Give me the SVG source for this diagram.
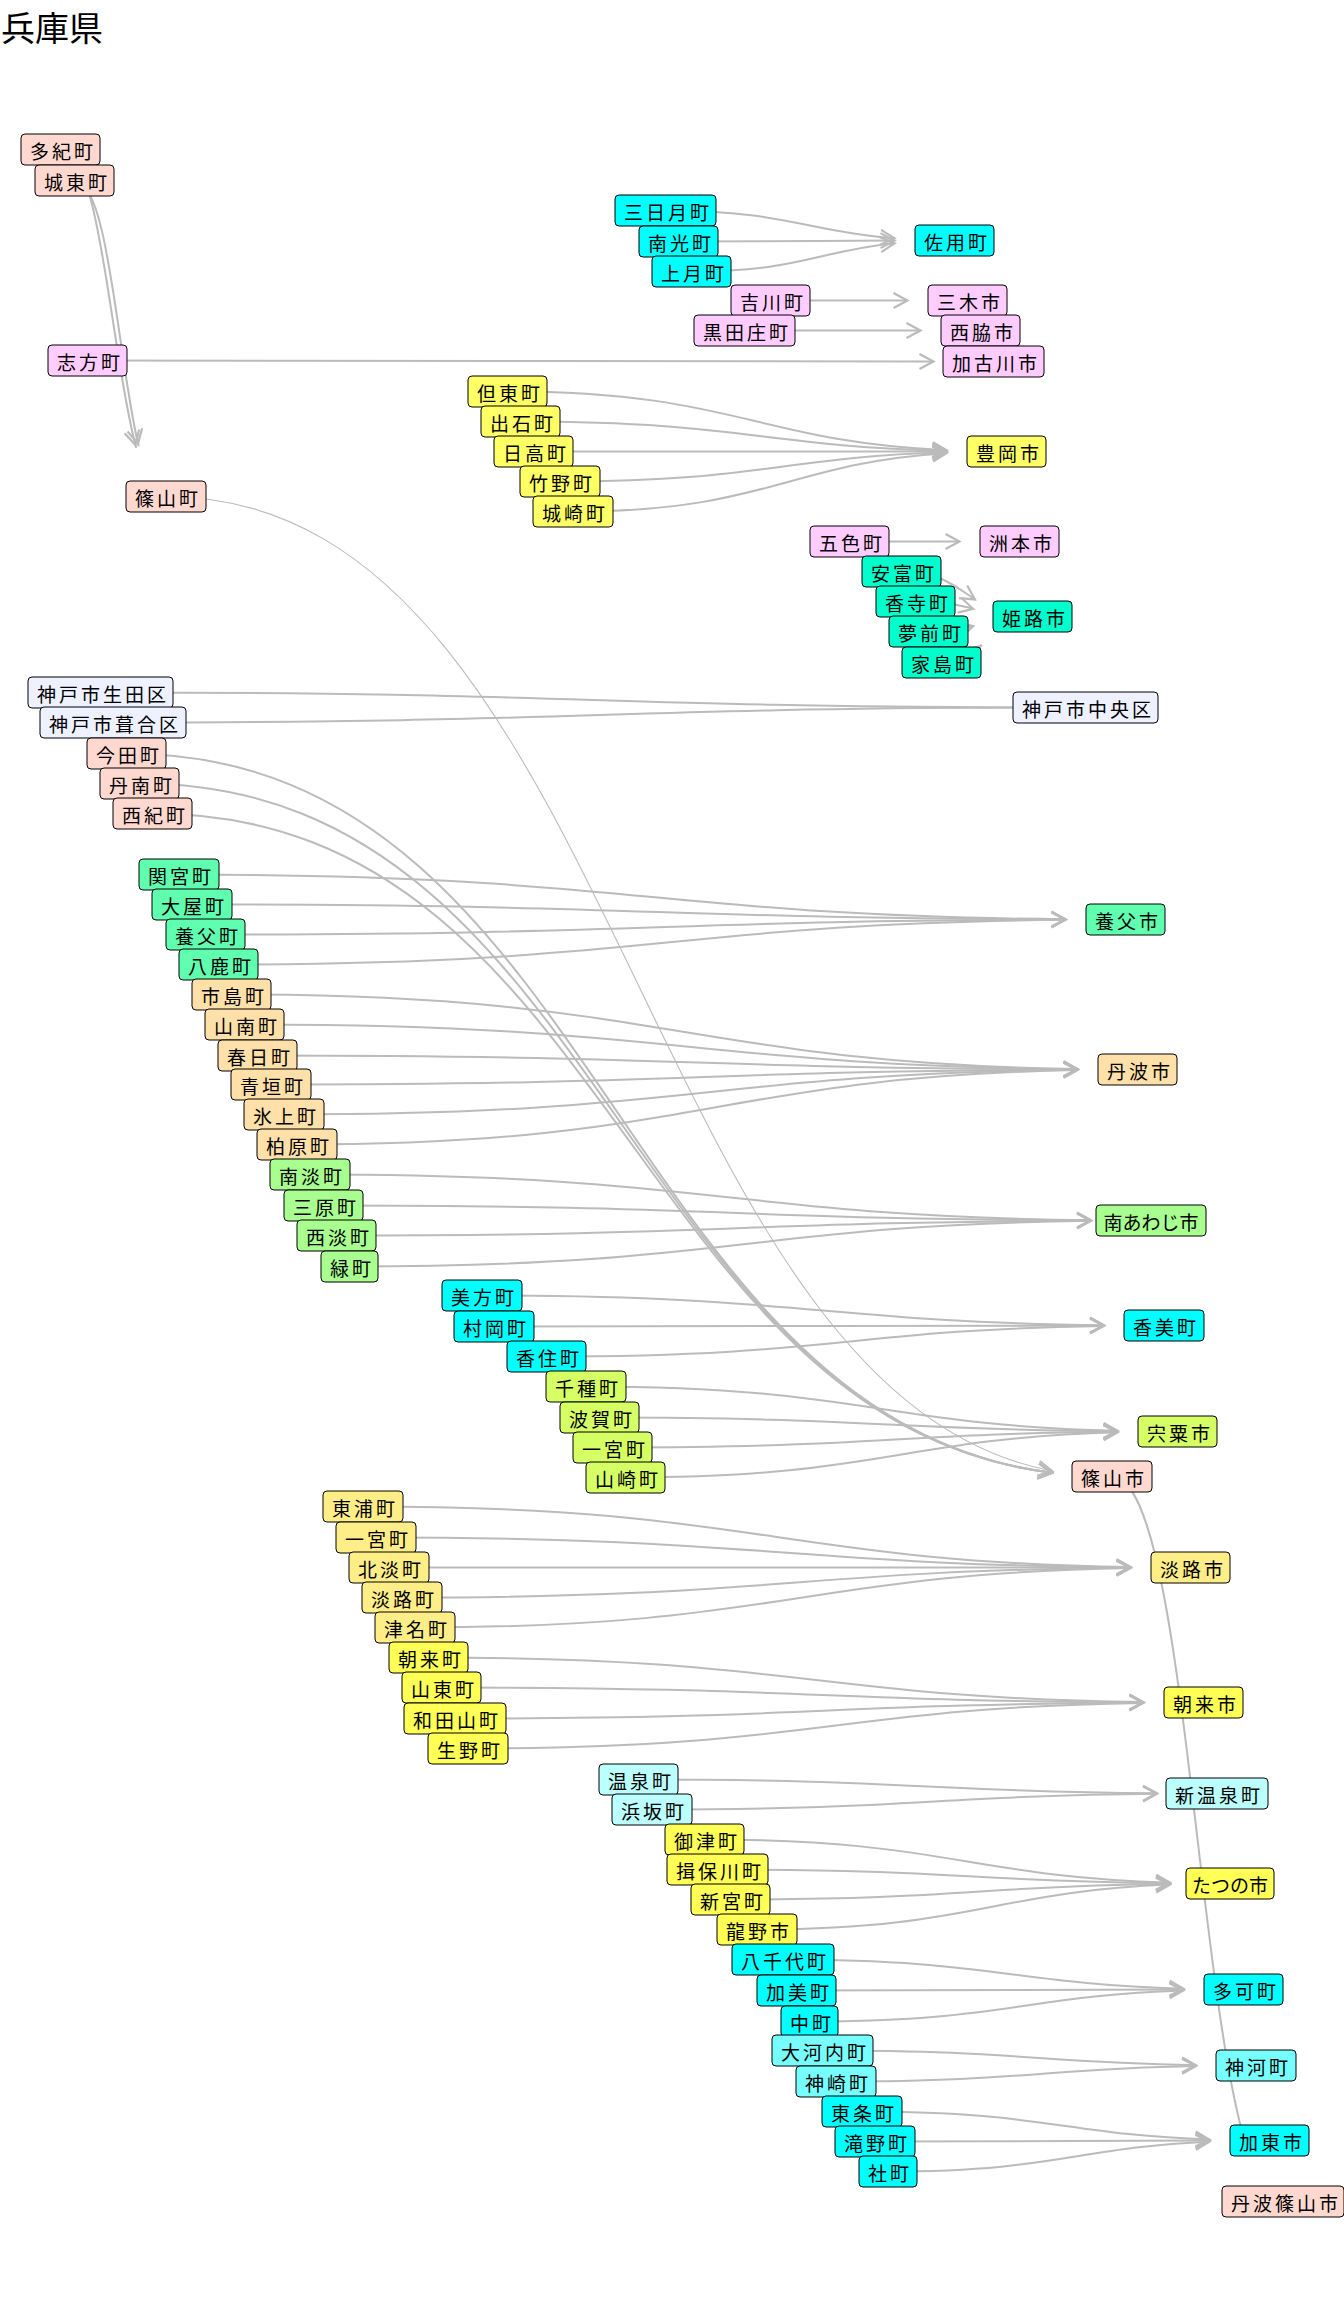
<svg xmlns="http://www.w3.org/2000/svg" width="1344" height="2304" viewBox="0 0 1344 2304">
<style>
.n rect{stroke:#000;stroke-width:1}
.n text{font-family:"Noto Sans CJK JP","Noto Sans CJK SC",sans-serif;font-size:19px;letter-spacing:3px;fill:#000}
.n text.k{letter-spacing:0}
.e{fill:none;stroke:#bbbbbb;stroke-width:2;stroke-dasharray:5000 60;stroke-dashoffset:5000}
.thin{stroke-width:1.1}
.p1{fill:#ffd9d0}.p2{fill:#ffccff}.cy{fill:#00ffff}.y1{fill:#ffff66}.tl{fill:#00ffcc}.lv{fill:#eef1ff}
.mg{fill:#60ffb0}.or{fill:#ffe0a8}.lg{fill:#a8ff90}.yg{fill:#d6ff66}.ly{fill:#ffee88}.y2{fill:#ffff55}
.lc{fill:#bbffff}.mc{fill:#77ffff}
</style>
<defs>
<path id="ah" d="M-14,-7.5 L0,0 L-14,7.5" fill="none" stroke="#bbbbbb" stroke-width="2.2" stroke-linejoin="miter"/>
</defs>
<rect x="0" y="0" width="1344" height="2304" fill="#ffffff"/>
<text x="1" y="41" font-family="Noto Sans CJK JP,Noto Sans CJK SC,sans-serif" font-size="34" fill="#000">兵庫県</text>
<g id="edges">
<path class="e" d="M166,496.5 C113.25,496.5 113.25,149.5 60.5,149.5"/>
<path class="e" d="M166,496.5 C120.25,496.5 120.25,180.5 74.5,180.5"/>
<use href="#ah" transform="translate(135.4,444.9) rotate(75.4)"/>
<use href="#ah" transform="translate(138,443.5) rotate(77)"/>
<path class="e thin" d="M1112,1476.5 C639,1476.5 639,496.5 166,496.5"/>
<path class="e" d="M1112,1476.5 C619.25,1476.5 619.25,753.5 126.5,753.5"/>
<path class="e" d="M1112,1476.5 C625.75,1476.5 625.75,783.5 139.5,783.5"/>
<path class="e" d="M1112,1476.5 C632.25,1476.5 632.25,813.5 152.5,813.5"/>
<use href="#ah" transform="translate(1052.2,1471) rotate(10.8)"/>
<use href="#ah" transform="translate(1052.1,1472.7) rotate(7.35)"/>
<use href="#ah" transform="translate(1052,1472.8) rotate(7.27)"/>
<use href="#ah" transform="translate(1052,1472.9) rotate(7.15)"/>
<path class="e" d="M1283,2201.5 C1197.5,2201.5 1197.5,1476.5 1112,1476.5"/>
<use href="#ah" transform="translate(1248,2152.7) rotate(72)"/>
<path class="e" d="M1085.5,707.5 C593,707.5 593,692.5 100.5,692.5"/>
<path class="e" d="M1085.5,707.5 C599.25,707.5 599.25,722.5 113,722.5"/>
<path class="e" d="M954.5,240.5 C810,240.5 810,210.5 665.5,210.5"/>
<path class="e" d="M954.5,240.5 C816.5,240.5 816.5,241.5 678.5,241.5"/>
<path class="e" d="M954.5,240.5 C823,240.5 823,271.5 691.5,271.5"/>
<use href="#ah" transform="translate(894.5,238.4) rotate(4.4)"/>
<use href="#ah" transform="translate(894.5,240.6) rotate(-0.2)"/>
<use href="#ah" transform="translate(894.6,243.2) rotate(-5.66)"/>
<path class="e" d="M967.5,300.5 C869,300.5 869,300.5 770.5,300.5"/>
<use href="#ah" transform="translate(907.5,300.5)"/>
<path class="e" d="M980.5,330.5 C862.5,330.5 862.5,330.5 744.5,330.5"/>
<use href="#ah" transform="translate(920.5,330.5)"/>
<path class="e" d="M993.5,361.5 C540.5,361.5 540.5,360.5 87.5,360.5"/>
<use href="#ah" transform="translate(933.5,361.5)"/>
<path class="e" d="M1019.5,541.5 C934.5,541.5 934.5,541.5 849.5,541.5"/>
<use href="#ah" transform="translate(959.5,541.5)"/>
<path class="e" d="M1006.5,451.5 C757,451.5 757,391.5 507.5,391.5"/>
<path class="e" d="M1006.5,451.5 C763.5,451.5 763.5,421.5 520.5,421.5"/>
<path class="e" d="M1006.5,451.5 C770,451.5 770,451.5 533.5,451.5"/>
<path class="e" d="M1006.5,451.5 C783.25,451.5 783.25,481.5 560,481.5"/>
<path class="e" d="M1006.5,451.5 C789.75,451.5 789.75,511.5 573,511.5"/>
<use href="#ah" transform="translate(946.5,450.2) rotate(2.61)"/>
<use href="#ah" transform="translate(946.5,450.8) rotate(1.38)"/>
<use href="#ah" transform="translate(946.5,451.5)"/>
<use href="#ah" transform="translate(946.5,452.3) rotate(-1.66)"/>
<use href="#ah" transform="translate(946.6,453.2) rotate(-3.55)"/>
<path class="e" d="M1032.5,616.5 C967,616.5 967,571.5 901.5,571.5"/>
<path class="e" d="M1032.5,616.5 C974,616.5 974,601.5 915.5,601.5"/>
<path class="e" d="M1032.5,616.5 C980.5,616.5 980.5,631.5 928.5,631.5"/>
<path class="e" d="M1032.5,616.5 C987,616.5 987,662.5 941.5,662.5"/>
<use href="#ah" transform="translate(974.9,599.4) rotate(33.1)"/>
<use href="#ah" transform="translate(973.1,608.8) rotate(14.4)"/>
<use href="#ah" transform="translate(973.2,626) rotate(-15.1)"/>
<use href="#ah" transform="translate(980.4,646) rotate(-43.2)"/>
<path class="e" d="M1125.5,919.5 C652.25,919.5 652.25,874.5 179,874.5"/>
<path class="e" d="M1125.5,919.5 C658.75,919.5 658.75,904.5 192,904.5"/>
<path class="e" d="M1125.5,919.5 C665.5,919.5 665.5,934.5 205.5,934.5"/>
<path class="e" d="M1125.5,919.5 C672,919.5 672,964.5 218.5,964.5"/>
<use href="#ah" transform="translate(1065.5,919.2) rotate(0.5)"/>
<use href="#ah" transform="translate(1065.5,919.4) rotate(0.17)"/>
<use href="#ah" transform="translate(1065.5,919.6) rotate(-0.17)"/>
<use href="#ah" transform="translate(1065.5,919.8) rotate(-0.55)"/>
<path class="e" d="M1137.5,1069.5 C684.5,1069.5 684.5,994.5 231.5,994.5"/>
<path class="e" d="M1137.5,1069.5 C691,1069.5 691,1024.5 244.5,1024.5"/>
<path class="e" d="M1137.5,1069.5 C697.5,1069.5 697.5,1055.5 257.5,1055.5"/>
<path class="e" d="M1137.5,1069.5 C704.25,1069.5 704.25,1084.5 271,1084.5"/>
<path class="e" d="M1137.5,1069.5 C710.75,1069.5 710.75,1114.5 284,1114.5"/>
<path class="e" d="M1137.5,1069.5 C717.25,1069.5 717.25,1144.5 297,1144.5"/>
<use href="#ah" transform="translate(1077.5,1069) rotate(0.92)"/>
<use href="#ah" transform="translate(1077.5,1069.2) rotate(0.57)"/>
<use href="#ah" transform="translate(1077.5,1069.4) rotate(0.18)"/>
<use href="#ah" transform="translate(1077.5,1069.6) rotate(-0.2)"/>
<use href="#ah" transform="translate(1077.5,1069.8) rotate(-0.63)"/>
<use href="#ah" transform="translate(1077.5,1070) rotate(-1.07)"/>
<path class="e" d="M1151,1220.5 C730.5,1220.5 730.5,1174.5 310,1174.5"/>
<path class="e" d="M1151,1220.5 C737.25,1220.5 737.25,1205.5 323.5,1205.5"/>
<path class="e" d="M1151,1220.5 C743.75,1220.5 743.75,1235.5 336.5,1235.5"/>
<path class="e" d="M1151,1220.5 C750.25,1220.5 750.25,1266.5 349.5,1266.5"/>
<use href="#ah" transform="translate(1091,1220.2) rotate(0.66)"/>
<use href="#ah" transform="translate(1091,1220.4) rotate(0.2)"/>
<use href="#ah" transform="translate(1091,1220.6) rotate(-0.2)"/>
<use href="#ah" transform="translate(1091,1220.9) rotate(-0.72)"/>
<path class="e" d="M1164,1325.5 C823,1325.5 823,1295.5 482,1295.5"/>
<path class="e" d="M1164,1325.5 C829,1325.5 829,1326.5 494,1326.5"/>
<path class="e" d="M1164,1325.5 C855.25,1325.5 855.25,1356.5 546.5,1356.5"/>
<use href="#ah" transform="translate(1104,1325.2) rotate(0.67)"/>
<use href="#ah" transform="translate(1104,1325.5)"/>
<use href="#ah" transform="translate(1104,1325.9) rotate(-0.85)"/>
<path class="e" d="M1177.5,1431.5 C881.75,1431.5 881.75,1386.5 586,1386.5"/>
<path class="e" d="M1177.5,1431.5 C888.5,1431.5 888.5,1417.5 599.5,1417.5"/>
<path class="e" d="M1177.5,1431.5 C895,1431.5 895,1447.5 612.5,1447.5"/>
<path class="e" d="M1177.5,1431.5 C901.5,1431.5 901.5,1477.5 625.5,1477.5"/>
<use href="#ah" transform="translate(1117.5,1430.8) rotate(1.36)"/>
<use href="#ah" transform="translate(1117.5,1431.3) rotate(0.44)"/>
<use href="#ah" transform="translate(1117.5,1431.8) rotate(-0.53)"/>
<use href="#ah" transform="translate(1117.5,1432.3) rotate(-1.61)"/>
<path class="e" d="M1190.5,1567.5 C776.75,1567.5 776.75,1506.5 363,1506.5"/>
<path class="e" d="M1190.5,1567.5 C783.25,1567.5 783.25,1537.5 376,1537.5"/>
<path class="e" d="M1190.5,1567.5 C789.75,1567.5 789.75,1567.5 389,1567.5"/>
<path class="e" d="M1190.5,1567.5 C796.25,1567.5 796.25,1597.5 402,1597.5"/>
<path class="e" d="M1190.5,1567.5 C802.75,1567.5 802.75,1627.5 415,1627.5"/>
<use href="#ah" transform="translate(1130.5,1567) rotate(0.9)"/>
<use href="#ah" transform="translate(1130.5,1567.3) rotate(0.46)"/>
<use href="#ah" transform="translate(1130.5,1567.5)"/>
<use href="#ah" transform="translate(1130.5,1567.75) rotate(-0.49)"/>
<use href="#ah" transform="translate(1130.5,1568) rotate(-1.01)"/>
<path class="e" d="M1203.5,1702.5 C816,1702.5 816,1657.5 428.5,1657.5"/>
<path class="e" d="M1203.5,1702.5 C822.5,1702.5 822.5,1687.5 441.5,1687.5"/>
<path class="e" d="M1203.5,1702.5 C829.25,1702.5 829.25,1718.5 455,1718.5"/>
<path class="e" d="M1203.5,1702.5 C835.75,1702.5 835.75,1748.5 468,1748.5"/>
<use href="#ah" transform="translate(1143.5,1702.1) rotate(0.76)"/>
<use href="#ah" transform="translate(1143.5,1702.4) rotate(0.26)"/>
<use href="#ah" transform="translate(1143.5,1702.6) rotate(-0.28)"/>
<use href="#ah" transform="translate(1143.5,1702.9) rotate(-0.87)"/>
<path class="e" d="M1217,1793.5 C927.75,1793.5 927.75,1779.5 638.5,1779.5"/>
<path class="e" d="M1217,1793.5 C934.5,1793.5 934.5,1809.5 652,1809.5"/>
<use href="#ah" transform="translate(1157,1793.3) rotate(0.44)"/>
<use href="#ah" transform="translate(1157,1793.8) rotate(-0.53)"/>
<path class="e" d="M1230,1883.5 C967.25,1883.5 967.25,1839.5 704.5,1839.5"/>
<path class="e" d="M1230,1883.5 C973.75,1883.5 973.75,1869.5 717.5,1869.5"/>
<path class="e" d="M1230,1883.5 C980.25,1883.5 980.25,1899.5 730.5,1899.5"/>
<path class="e" d="M1230,1883.5 C993.5,1883.5 993.5,1929.5 757,1929.5"/>
<use href="#ah" transform="translate(1170,1882.65) rotate(1.71)"/>
<use href="#ah" transform="translate(1170,1883.2) rotate(0.57)"/>
<use href="#ah" transform="translate(1170,1883.84) rotate(-0.69)"/>
<use href="#ah" transform="translate(1170,1884.6) rotate(-2.25)"/>
<path class="e" d="M1243.5,1989.5 C1013.25,1989.5 1013.25,1959.5 783,1959.5"/>
<path class="e" d="M1243.5,1989.5 C1020,1989.5 1020,1990.5 796.5,1990.5"/>
<path class="e" d="M1243.5,1989.5 C1026.5,1989.5 1026.5,2021.5 809.5,2021.5"/>
<use href="#ah" transform="translate(1183.5,1988.7) rotate(1.55)"/>
<use href="#ah" transform="translate(1183.5,1989.5)"/>
<use href="#ah" transform="translate(1183.5,1990.4) rotate(-1.89)"/>
<path class="e" d="M1256,2065.5 C1039.25,2065.5 1039.25,2050.5 822.5,2050.5"/>
<path class="e" d="M1256,2065.5 C1046,2065.5 1046,2081.5 836,2081.5"/>
<use href="#ah" transform="translate(1196,2065.1) rotate(0.89)"/>
<use href="#ah" transform="translate(1196,2066) rotate(-1.02)"/>
<path class="e" d="M1269.5,2140.5 C1065.75,2140.5 1065.75,2111.5 862,2111.5"/>
<path class="e" d="M1269.5,2140.5 C1072.25,2140.5 1072.25,2141.5 875,2141.5"/>
<path class="e" d="M1269.5,2140.5 C1078.75,2140.5 1078.75,2171.5 888,2171.5"/>
<use href="#ah" transform="translate(1209.5,2139.55) rotate(1.96)"/>
<use href="#ah" transform="translate(1209.5,2140.5)"/>
<use href="#ah" transform="translate(1209.5,2141.66) rotate(-2.41)"/>
</g>
<g id="n01" class="n"><rect class="p1" x="21" y="134" width="79" height="31" rx="4"/><text x="30" y="158.5">多紀町</text></g>
<g id="n02" class="n"><rect class="p1" x="35" y="165" width="79" height="31" rx="4"/><text x="44" y="189.5">城東町</text></g>
<g id="n03" class="n"><rect class="p2" x="48" y="345" width="79" height="31" rx="4"/><text x="57" y="369.5">志方町</text></g>
<g id="n04" class="n"><rect class="p1" x="126" y="481" width="80" height="31" rx="4"/><text x="135" y="505.5">篠山町</text></g>
<g id="n05" class="n"><rect class="cy" x="615" y="195" width="101" height="31" rx="4"/><text x="624" y="219.5">三日月町</text></g>
<g id="n06" class="n"><rect class="cy" x="639" y="226" width="79" height="31" rx="4"/><text x="648" y="250.5">南光町</text></g>
<g id="n07" class="n"><rect class="cy" x="652" y="256" width="79" height="31" rx="4"/><text x="661" y="280.5">上月町</text></g>
<g id="n08" class="n"><rect class="p2" x="731" y="285" width="79" height="31" rx="4"/><text x="740" y="309.5">吉川町</text></g>
<g id="n09" class="n"><rect class="p2" x="694" y="315" width="101" height="31" rx="4"/><text x="703" y="339.5">黒田庄町</text></g>
<g id="n10" class="n"><rect class="cy" x="915" y="225" width="79" height="31" rx="4"/><text x="924" y="249.5">佐用町</text></g>
<g id="n11" class="n"><rect class="p2" x="928" y="285" width="79" height="31" rx="4"/><text x="937" y="309.5">三木市</text></g>
<g id="n12" class="n"><rect class="p2" x="941" y="315" width="79" height="31" rx="4"/><text x="950" y="339.5">西脇市</text></g>
<g id="n13" class="n"><rect class="p2" x="943" y="346" width="101" height="31" rx="4"/><text x="952" y="370.5">加古川市</text></g>
<g id="n14" class="n"><rect class="y1" x="468" y="376" width="79" height="31" rx="4"/><text x="477" y="400.5">但東町</text></g>
<g id="n15" class="n"><rect class="y1" x="481" y="406" width="79" height="31" rx="4"/><text x="490" y="430.5">出石町</text></g>
<g id="n16" class="n"><rect class="y1" x="494" y="436" width="79" height="31" rx="4"/><text x="503" y="460.5">日高町</text></g>
<g id="n17" class="n"><rect class="y1" x="520" y="466" width="80" height="31" rx="4"/><text x="529" y="490.5">竹野町</text></g>
<g id="n18" class="n"><rect class="y1" x="533" y="496" width="80" height="31" rx="4"/><text x="542" y="520.5">城崎町</text></g>
<g id="n19" class="n"><rect class="y1" x="967" y="436" width="79" height="31" rx="4"/><text x="976" y="460.5">豊岡市</text></g>
<g id="n20" class="n"><rect class="p2" x="810" y="526" width="79" height="31" rx="4"/><text x="819" y="550.5">五色町</text></g>
<g id="n21" class="n"><rect class="p2" x="980" y="526" width="79" height="31" rx="4"/><text x="989" y="550.5">洲本市</text></g>
<g id="n22" class="n"><rect class="tl" x="862" y="556" width="79" height="31" rx="4"/><text x="871" y="580.5">安富町</text></g>
<g id="n23" class="n"><rect class="tl" x="876" y="586" width="79" height="31" rx="4"/><text x="885" y="610.5">香寺町</text></g>
<g id="n24" class="n"><rect class="tl" x="889" y="616" width="79" height="31" rx="4"/><text x="898" y="640.5">夢前町</text></g>
<g id="n25" class="n"><rect class="tl" x="902" y="647" width="79" height="31" rx="4"/><text x="911" y="671.5">家島町</text></g>
<g id="n26" class="n"><rect class="tl" x="993" y="601" width="79" height="31" rx="4"/><text x="1002" y="625.5">姫路市</text></g>
<g id="n27" class="n"><rect class="lv" x="28" y="677" width="145" height="31" rx="4"/><text x="37" y="701.5">神戸市生田区</text></g>
<g id="n28" class="n"><rect class="lv" x="40" y="707" width="146" height="31" rx="4"/><text x="49" y="731.5">神戸市葺合区</text></g>
<g id="n29" class="n"><rect class="lv" x="1013" y="692" width="145" height="31" rx="4"/><text x="1022" y="716.5">神戸市中央区</text></g>
<g id="n30" class="n"><rect class="p1" x="87" y="738" width="79" height="31" rx="4"/><text x="96" y="762.5">今田町</text></g>
<g id="n31" class="n"><rect class="p1" x="100" y="768" width="79" height="31" rx="4"/><text x="109" y="792.5">丹南町</text></g>
<g id="n32" class="n"><rect class="p1" x="113" y="798" width="79" height="31" rx="4"/><text x="122" y="822.5">西紀町</text></g>
<g id="n33" class="n"><rect class="mg" x="139" y="859" width="80" height="31" rx="4"/><text x="148" y="883.5">関宮町</text></g>
<g id="n34" class="n"><rect class="mg" x="152" y="889" width="80" height="31" rx="4"/><text x="161" y="913.5">大屋町</text></g>
<g id="n35" class="n"><rect class="mg" x="166" y="919" width="79" height="31" rx="4"/><text x="175" y="943.5">養父町</text></g>
<g id="n36" class="n"><rect class="mg" x="179" y="949" width="79" height="31" rx="4"/><text x="188" y="973.5">八鹿町</text></g>
<g id="n37" class="n"><rect class="or" x="192" y="979" width="79" height="31" rx="4"/><text x="201" y="1003.5">市島町</text></g>
<g id="n38" class="n"><rect class="or" x="205" y="1009" width="79" height="31" rx="4"/><text x="214" y="1033.5">山南町</text></g>
<g id="n39" class="n"><rect class="or" x="218" y="1040" width="79" height="31" rx="4"/><text x="227" y="1064.5">春日町</text></g>
<g id="n40" class="n"><rect class="or" x="231" y="1069" width="80" height="31" rx="4"/><text x="240" y="1093.5">青垣町</text></g>
<g id="n41" class="n"><rect class="or" x="244" y="1099" width="80" height="31" rx="4"/><text x="253" y="1123.5">氷上町</text></g>
<g id="n42" class="n"><rect class="or" x="257" y="1129" width="80" height="31" rx="4"/><text x="266" y="1153.5">柏原町</text></g>
<g id="n43" class="n"><rect class="lg" x="270" y="1159" width="80" height="31" rx="4"/><text x="279" y="1183.5">南淡町</text></g>
<g id="n44" class="n"><rect class="lg" x="284" y="1190" width="79" height="31" rx="4"/><text x="293" y="1214.5">三原町</text></g>
<g id="n45" class="n"><rect class="lg" x="297" y="1220" width="79" height="31" rx="4"/><text x="306" y="1244.5">西淡町</text></g>
<g id="n46" class="n"><rect class="lg" x="321" y="1251" width="57" height="31" rx="4"/><text x="330" y="1275.5">緑町</text></g>
<g id="n47" class="n"><rect class="mg" x="1086" y="904" width="79" height="31" rx="4"/><text x="1095" y="928.5">養父市</text></g>
<g id="n48" class="n"><rect class="or" x="1098" y="1054" width="79" height="31" rx="4"/><text x="1107" y="1078.5">丹波市</text></g>
<g id="n49" class="n"><rect class="lg" x="1096" y="1205" width="110" height="31" rx="4"/><text class="k" x="1103.5" y="1229.5">南あわじ市</text></g>
<g id="n50" class="n"><rect class="cy" x="442" y="1280" width="80" height="31" rx="4"/><text x="451" y="1304.5">美方町</text></g>
<g id="n51" class="n"><rect class="cy" x="454" y="1311" width="80" height="31" rx="4"/><text x="463" y="1335.5">村岡町</text></g>
<g id="n52" class="n"><rect class="cy" x="507" y="1341" width="79" height="31" rx="4"/><text x="516" y="1365.5">香住町</text></g>
<g id="n53" class="n"><rect class="cy" x="1124" y="1310" width="80" height="31" rx="4"/><text x="1133" y="1334.5">香美町</text></g>
<g id="n54" class="n"><rect class="yg" x="546" y="1371" width="80" height="31" rx="4"/><text x="555" y="1395.5">千種町</text></g>
<g id="n55" class="n"><rect class="yg" x="560" y="1402" width="79" height="31" rx="4"/><text x="569" y="1426.5">波賀町</text></g>
<g id="n56" class="n"><rect class="yg" x="573" y="1432" width="79" height="31" rx="4"/><text x="582" y="1456.5">一宮町</text></g>
<g id="n57" class="n"><rect class="yg" x="586" y="1462" width="79" height="31" rx="4"/><text x="595" y="1486.5">山崎町</text></g>
<g id="n58" class="n"><rect class="yg" x="1138" y="1416" width="79" height="31" rx="4"/><text x="1147" y="1440.5">宍粟市</text></g>
<g id="n59" class="n"><rect class="p1" x="1072" y="1461" width="80" height="31" rx="4"/><text x="1081" y="1485.5">篠山市</text></g>
<g id="n60" class="n"><rect class="ly" x="323" y="1491" width="80" height="31" rx="4"/><text x="332" y="1515.5">東浦町</text></g>
<g id="n61" class="n"><rect class="ly" x="336" y="1522" width="80" height="31" rx="4"/><text x="345" y="1546.5">一宮町</text></g>
<g id="n62" class="n"><rect class="ly" x="349" y="1552" width="80" height="31" rx="4"/><text x="358" y="1576.5">北淡町</text></g>
<g id="n63" class="n"><rect class="ly" x="362" y="1582" width="80" height="31" rx="4"/><text x="371" y="1606.5">淡路町</text></g>
<g id="n64" class="n"><rect class="ly" x="375" y="1612" width="80" height="31" rx="4"/><text x="384" y="1636.5">津名町</text></g>
<g id="n65" class="n"><rect class="ly" x="1151" y="1552" width="79" height="31" rx="4"/><text x="1160" y="1576.5">淡路市</text></g>
<g id="n66" class="n"><rect class="y2" x="389" y="1642" width="79" height="31" rx="4"/><text x="398" y="1666.5">朝来町</text></g>
<g id="n67" class="n"><rect class="y2" x="402" y="1672" width="79" height="31" rx="4"/><text x="411" y="1696.5">山東町</text></g>
<g id="n68" class="n"><rect class="y2" x="404" y="1703" width="102" height="31" rx="4"/><text x="413" y="1727.5">和田山町</text></g>
<g id="n69" class="n"><rect class="y2" x="428" y="1733" width="80" height="31" rx="4"/><text x="437" y="1757.5">生野町</text></g>
<g id="n70" class="n"><rect class="y2" x="1164" y="1687" width="79" height="31" rx="4"/><text x="1173" y="1711.5">朝来市</text></g>
<g id="n71" class="n"><rect class="lc" x="599" y="1764" width="79" height="31" rx="4"/><text x="608" y="1788.5">温泉町</text></g>
<g id="n72" class="n"><rect class="lc" x="612" y="1794" width="80" height="31" rx="4"/><text x="621" y="1818.5">浜坂町</text></g>
<g id="n73" class="n"><rect class="lc" x="1166" y="1778" width="102" height="31" rx="4"/><text x="1175" y="1802.5">新温泉町</text></g>
<g id="n74" class="n"><rect class="y2" x="665" y="1824" width="79" height="31" rx="4"/><text x="674" y="1848.5">御津町</text></g>
<g id="n75" class="n"><rect class="y2" x="667" y="1854" width="101" height="31" rx="4"/><text x="676" y="1878.5">揖保川町</text></g>
<g id="n76" class="n"><rect class="y2" x="691" y="1884" width="79" height="31" rx="4"/><text x="700" y="1908.5">新宮町</text></g>
<g id="n77" class="n"><rect class="y2" x="717" y="1914" width="80" height="31" rx="4"/><text x="726" y="1938.5">龍野市</text></g>
<g id="n78" class="n"><rect class="y2" x="1186" y="1868" width="88" height="31" rx="4"/><text class="k" x="1192" y="1892.5">たつの市</text></g>
<g id="n79" class="n"><rect class="cy" x="732" y="1944" width="102" height="31" rx="4"/><text x="741" y="1968.5">八千代町</text></g>
<g id="n80" class="n"><rect class="cy" x="757" y="1975" width="79" height="31" rx="4"/><text x="766" y="1999.5">加美町</text></g>
<g id="n81" class="n"><rect class="cy" x="781" y="2006" width="57" height="31" rx="4"/><text x="790" y="2030.5">中町</text></g>
<g id="n82" class="n"><rect class="cy" x="1204" y="1974" width="79" height="31" rx="4"/><text x="1213" y="1998.5">多可町</text></g>
<g id="n83" class="n"><rect class="mc" x="772" y="2035" width="101" height="31" rx="4"/><text x="781" y="2059.5">大河内町</text></g>
<g id="n84" class="n"><rect class="mc" x="796" y="2066" width="80" height="31" rx="4"/><text x="805" y="2090.5">神崎町</text></g>
<g id="n85" class="n"><rect class="mc" x="1216" y="2050" width="80" height="31" rx="4"/><text x="1225" y="2074.5">神河町</text></g>
<g id="n86" class="n"><rect class="cy" x="822" y="2096" width="80" height="31" rx="4"/><text x="831" y="2120.5">東条町</text></g>
<g id="n87" class="n"><rect class="cy" x="835" y="2126" width="80" height="31" rx="4"/><text x="844" y="2150.5">滝野町</text></g>
<g id="n88" class="n"><rect class="cy" x="859" y="2156" width="58" height="31" rx="4"/><text x="868" y="2180.5">社町</text></g>
<g id="n89" class="n"><rect class="cy" x="1230" y="2125" width="79" height="31" rx="4"/><text x="1239" y="2149.5">加東市</text></g>
<g id="n90" class="n"><rect class="p1" x="1222" y="2186" width="122" height="31" rx="4"/><text x="1231" y="2210.5">丹波篠山市</text></g>
</svg>
